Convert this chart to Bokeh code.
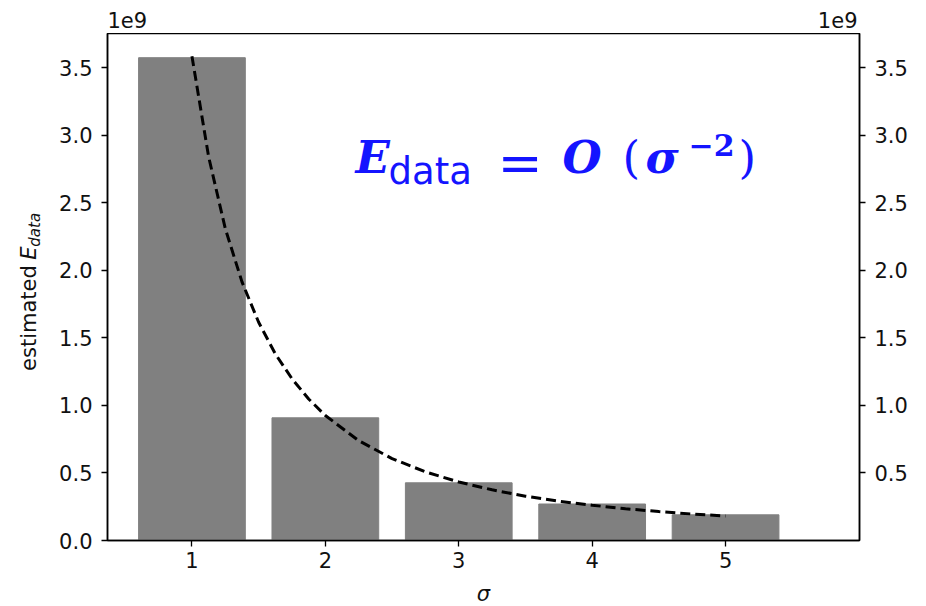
import math
from bokeh.plotting import figure
from bokeh.layouts import column, row
from bokeh.models import Range1d, LinearAxis, FixedTicker, PrintfTickFormatter, Label
from bokeh.core.properties import value
from bokeh.embed import file_html
from bokeh.resources import INLINE

# ---- data (values in units of 1e9) ----
sigma = [1, 2, 3, 4, 5]
bar_vals = [3.573, 0.908, 0.427, 0.270, 0.190]
curve_sigma = [1, 1.125, 1.25, 1.375, 1.5, 1.625, 1.75, 1.875, 2, 2.25, 2.5, 2.75,
               3, 3.25, 3.5, 3.75, 4, 4.25, 4.5, 4.75, 5]
curve_vals = [3.584, 2.840, 2.308, 1.914, 1.615, 1.381, 1.197, 1.047, 0.925, 0.739,
              0.606, 0.508, 0.433, 0.375, 0.328, 0.291, 0.261, 0.235, 0.214, 0.196, 0.181]
x_ticks = [1, 2, 3, 4, 5]
left_ticks = [0.0, 0.5, 1.0, 1.5, 2.0, 2.5, 3.0, 3.5]
right_ticks = [0.5, 1.0, 1.5, 2.0, 2.5, 3.0, 3.5]

INK = "#111111"
W, H = 926, 606
TOP_H = 33      # strip above the plot
BOT_H = 26      # strip below the plot
LEFT_W = 45     # strip left of the plot
MID_H = H - TOP_H - BOT_H

def blank(width, height):
    # coordinates inside the strip = pixels, x from left, y from bottom
    f = figure(width=width, height=height, x_range=Range1d(0, width),
               y_range=Range1d(0, height), x_axis_type=None, y_axis_type=None,
               output_backend="svg", toolbar_location=None, min_border=0)
    f.outline_line_color = None
    f.background_fill_color = "white"
    f.border_fill_color = "white"
    return f

def put(f, text, x, y, size, style="normal", align="left", angle=0.0):
    f.text(x=[x], y=[y], text=[text], angle=angle, text_font=value("DejaVu Sans"),
           text_font_style=style, text_font_size=size, text_color=INK,
           text_align=align, text_baseline="middle")

# offset texts "1e9"
top = blank(W, TOP_H)
put(top, "1e9", 107, 13.8, "21px")
put(top, "1e9", 857, 13.8, "21px", align="right")

# y label "estimated E_data" (reads bottom to top)
left = blank(LEFT_W, MID_H)
put(left, "estimated", 28.1, 183, "21px", angle=math.pi / 2)
put(left, "E", 28.1, 303, "21px", style="italic", angle=math.pi / 2)
put(left, "data", 34.2, 317, "15px", style="italic", angle=math.pi / 2)

# x label
bottom = blank(W, BOT_H)
put(bottom, "σ", 483, 13, "21px", style="italic", align="center")

# ---- main plot ----
p = figure(width=W - LEFT_W, height=MID_H,
           x_range=Range1d(0.367, 6.004), y_range=Range1d(0, 3.752),
           output_backend="svg", toolbar_location=None,
           min_border_left=107 - LEFT_W, min_border_right=67,
           min_border_top=0, min_border_bottom=MID_H - (540 - TOP_H))
p.xgrid.visible = False
p.ygrid.visible = False
p.outline_line_color = "black"
p.outline_line_width = 1.5
p.background_fill_color = "white"
p.border_fill_color = "white"

p.vbar(x=sigma, top=bar_vals, width=0.8, bottom=0, color="#808080")
p.line(curve_sigma, curve_vals, line_dash="10 5", line_width=3, color="black")

p.xaxis.ticker = FixedTicker(ticks=x_ticks)
p.xaxis.formatter = PrintfTickFormatter(format="%d")
p.yaxis.ticker = FixedTicker(ticks=left_ticks)
p.yaxis.formatter = PrintfTickFormatter(format="%.1f")

raxis = LinearAxis(ticker=FixedTicker(ticks=right_ticks),
                   formatter=PrintfTickFormatter(format="%.1f"))
p.add_layout(raxis, "right")

for ax in [p.xaxis[0], p.yaxis[0], raxis]:
    ax.axis_line_color = "black"
    ax.axis_line_width = 1.5
    ax.major_tick_line_color = "black"
    ax.major_tick_line_width = 1.3
    ax.major_tick_in = 0
    ax.major_tick_out = 6
    ax.minor_tick_in = 0
    ax.minor_tick_out = 0
    ax.major_label_text_font = "DejaVu Sans"
    ax.major_label_text_font_size = "21px"
    ax.major_label_text_color = INK
p.xaxis.major_label_standoff = 5
p.yaxis.major_label_standoff = 9
raxis.major_label_standoff = 9

def lab(text, x, y, size, font="DejaVu Serif", style="normal", color="#1414ff"):
    # x, y in screen px relative to the frame's bottom-left corner
    p.add_layout(Label(x=x, y=y, x_units="screen", y_units="screen", text=text,
                       text_font=font, text_font_size=size,
                       text_font_style=style, text_color=color, text_align="left",
                       text_baseline="middle"))

# formula E_data = O(σ^-2)
lab("E", 248, 383, "45px", style="bold italic")
lab("data", 281, 369, "37px", font="DejaVu Sans")
lab("=", 390, 377.5, "54px")
lab("O", 455, 383, "45px", style="bold italic")
lab("(", 515, 383, "45px")
lab("σ", 538, 383, "45px", style="bold italic")
lab("−2", 581, 395.5, "30px", style="bold")
lab(")", 631, 383, "45px")

layout = column(top, row(left, p, spacing=0), bottom, spacing=0)
open("out.html", "w").write(file_html(layout, INLINE))
